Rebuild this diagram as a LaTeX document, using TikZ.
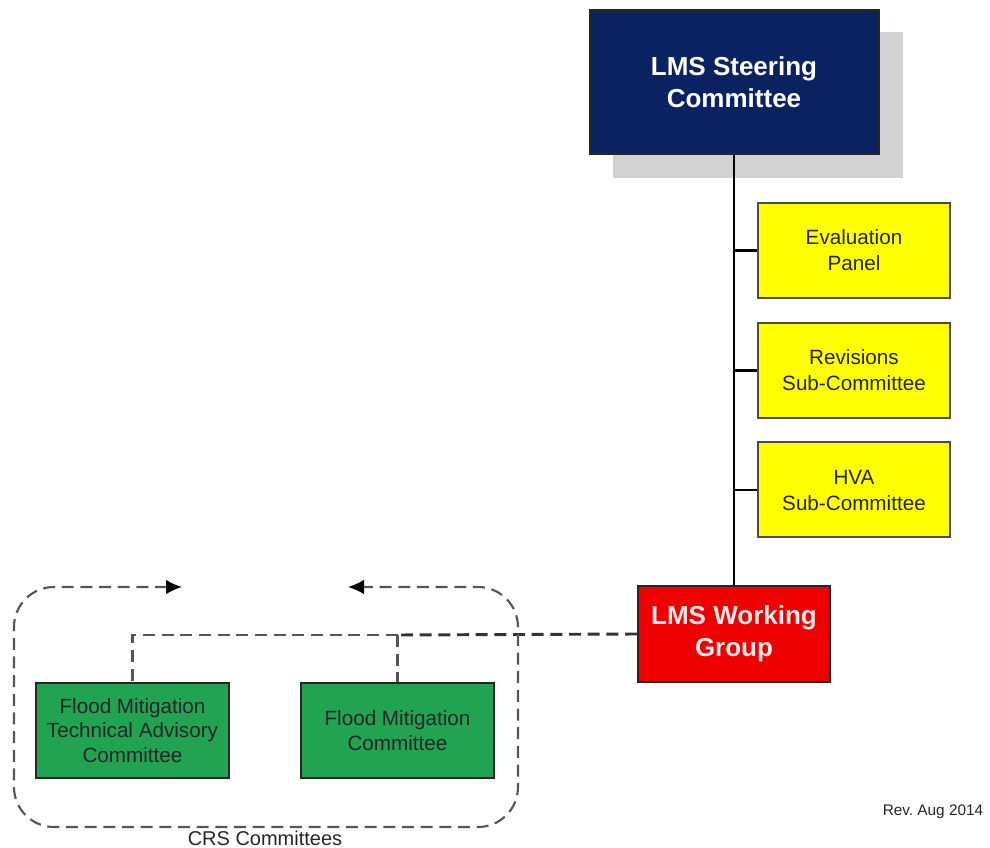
\documentclass[tikz,border=0pt]{standalone}
\usepackage{fontspec}
\setmainfont{Liberation Sans}
\usetikzlibrary{arrows.meta}
\definecolor{navy}{HTML}{0B2262}
\definecolor{shadowgray}{HTML}{D2D2D2}
\definecolor{ylw}{HTML}{FFFF00}
\definecolor{wgred}{HTML}{EE0000}
\definecolor{grn}{HTML}{22A352}
\definecolor{dashgray}{HTML}{555555}
\frenchspacing
\tikzset{
  box/.style={draw=black!85, line width=1.5pt, align=center, inner sep=2pt},
  topbox/.style={box, fill=navy, text=white, font=\fontsize{19.5}{24}\selectfont\bfseries,
    minimum width=216.75pt, minimum height=108pt},
  subbox/.style={box, draw=black!70, fill=ylw, text=black!85, font=\fontsize{15.5}{19.5}\selectfont,
    minimum width=144pt, minimum height=71.25pt},
  wgbox/.style={box, fill=wgred, text=white!92!black, font=\fontsize{19.5}{24}\selectfont\bfseries,
    minimum width=144pt, minimum height=72pt},
  crsbox/.style={box, fill=grn, text=black!85, font=\fontsize{15.5}{18.5}\selectfont,
    minimum width=144.75pt, minimum height=71.25pt},
  solidlink/.style={draw=black, line width=1.6pt},
  dashlink/.style={draw=dashgray, line width=1.6pt, dash pattern=on 9pt off 5pt},
  mainlink/.style={draw=black!80, line width=2.2pt, dash pattern=on 9pt off 5pt},
  cycle/.style={draw=dashgray, line width=1.6pt, dash pattern=on 9pt off 5pt, rounded corners=30pt,
    {Latex[length=12pt,width=11pt,black]}-{Latex[length=12pt,width=11pt,black]}},
  note/.style={text=black!85, inner sep=0pt}
}
\begin{document}
\begin{tikzpicture}[x=0.75pt,y=-0.75pt]
\useasboundingbox (0,0) rectangle (990,848);
% shadow
\fill[shadowgray] (613,32) rectangle (903,178);
\node[topbox] (sc) at (734,82) {LMS Steering\\Committee};
\node[subbox] (ev) at (854,250.5) {Evaluation\\Panel};
\node[subbox] (rv) at (854,370.5) {Revisions\\Sub-Committee};
\node[subbox] (hv) at (854,490) {HVA\\Sub-Committee};
\node[wgbox] (wg) at (734,634) {LMS Working\\Group};
\node[crsbox] (ta) at (132.5,730.5) {Flood Mitigation\\Technical Advisory\\Committee};
\node[crsbox] (fm) at (397.5,730.5) {Flood Mitigation\\Committee};
\coordinate (j2) at (397.5,635);
\coordinate (j1) at (132.5,635);
% solid connectors
\draw[solidlink] (sc.south) -- (wg.north);
\draw[solidlink] (ev.west) -- (ev.west -| sc.south);
\draw[solidlink] (rv.west) -- (rv.west -| sc.south);
\draw[solidlink] (hv.west) -- (hv.west -| sc.south);
% dashed connectors
\draw[dashlink] (j2) -- (j1) -- (ta.north);
\draw[dashlink] (j2) -- (fm.north);
\draw[mainlink] (wg.west) -- (j2);
% cycle region
\coordinate (cA) at (182,587);
\coordinate (cB) at (348,587);
\draw[cycle] (cA) -- (14,587) -- (14,827) -- (518,827) -- (518,587) -- (cB);
\node[note, font=\fontsize{15}{18}\selectfont] (crs) at (265,838) {CRS Committees};
\node[note, font=\fontsize{11.5}{14}\selectfont] (rev) at (933,812) {Rev. Aug 2014};
\end{tikzpicture}
\end{document}
